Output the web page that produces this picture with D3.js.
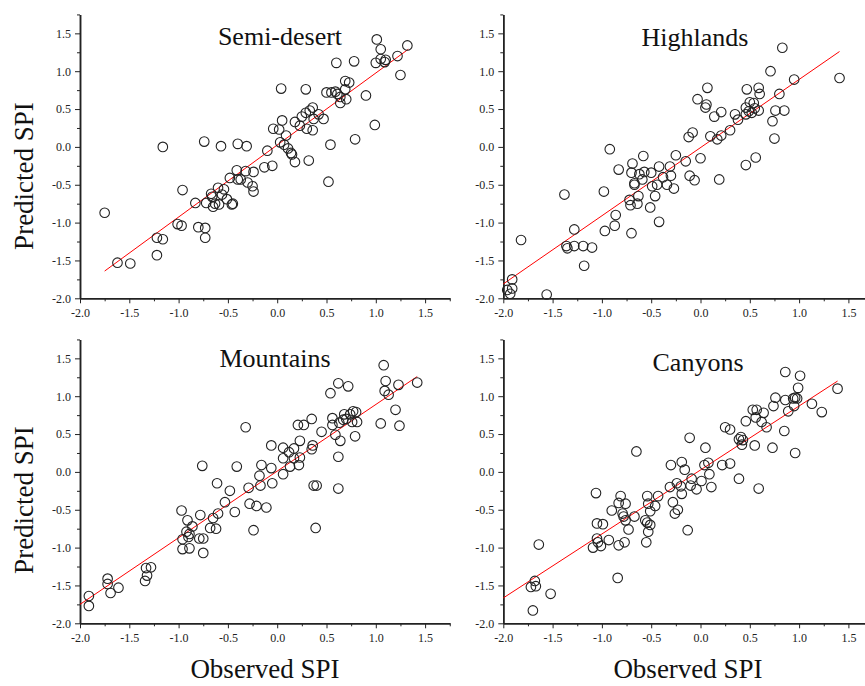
<!DOCTYPE html>
<html>
<head>
<meta charset="utf-8">
<script src="https://cdn.jsdelivr.net/npm/d3@7"></script>
<style>
  body { margin: 0; background: #fff; }
  .axis text { font-family: "Liberation Serif", serif; font-size: 12px; fill: #222; }
  .axis path, .axis line { stroke: #222; }
  .title { font-family: "Liberation Serif", serif; font-size: 26px; fill: #111; }
  .label { font-family: "Liberation Serif", serif; font-size: 27px; fill: #111; }
</style>
</head>
<body>
<svg id="chart" width="865" height="686"></svg>
<script>
// ticks
var majorTicks = [-2.0, -1.5, -1.0, -0.5, 0.0, 0.5, 1.0, 1.5];
var minorTicks = [-1.75, -1.25, -0.75, -0.25, 0.25, 0.75, 1.25, 1.75];

// Semi-desert
var semiObs = [-1.75,-1.62,-1.49,-1.22,-1.16,-1.22,-1.16,-1.01,-0.97,-0.96,-0.83,-0.80,-0.73,-0.73,-0.74,-0.72,-0.67,-0.66,-0.65,-0.63,-0.60,-0.59,-0.57,-0.56,-0.54,-0.51,-0.48,-0.46,-0.45,-0.41,-0.40,-0.40,-0.37,-0.31,-0.32,-0.30,-0.25,-0.24,-0.24,-0.13,-0.10,-0.05,-0.04,0.02,0.04,0.05,0.03,0.07,0.09,0.11,0.15,0.18,0.18,0.23,0.25,0.29,0.29,0.30,0.32,0.33,0.36,0.36,0.37,0.42,0.47,0.50,0.52,0.54,0.55,0.59,0.60,0.61,0.64,0.64,0.69,0.69,0.70,0.73,0.78,0.79,0.90,0.99,1.00,1.01,1.05,1.05,1.09,1.10,1.22,1.25,1.32,0.14];
var semiPred = [-0.87,-1.53,-1.54,-1.20,-1.22,-1.43,0.00,-1.02,-1.04,-0.57,-0.74,-1.06,-1.07,-1.20,0.07,-0.74,-0.62,-0.66,-0.79,-0.75,-0.54,-0.76,0.01,-0.63,-0.56,-0.69,-0.41,-0.76,-0.75,-0.31,0.04,-0.43,-0.43,0.01,-0.32,-0.47,-0.52,-0.33,-0.59,-0.27,-0.05,-0.25,0.24,0.23,0.77,0.35,0.06,0.03,0.15,-0.02,-0.10,-0.20,0.33,0.28,0.40,0.76,0.45,0.24,-0.18,0.48,0.52,0.22,0.37,0.43,0.37,0.72,-0.46,0.03,0.72,0.73,1.11,0.70,0.58,0.66,0.87,0.76,0.63,0.85,1.13,0.10,0.68,0.29,1.11,1.42,1.29,1.16,1.12,1.15,1.20,0.95,1.34,-0.08];
var semiFitX = [-1.75, 1.33];
var semiFitY = [-1.64, 1.29];

// Highlands
var highObs = [-1.93,-1.91,-1.91,-1.96,-1.82,-1.56,-1.38,-1.36,-1.35,-1.28,-1.28,-1.19,-1.18,-1.10,-0.98,-0.97,-0.92,-0.87,-0.86,-0.83,-0.72,-0.71,-0.70,-0.70,-0.69,-0.67,-0.67,-0.64,-0.63,-0.62,-0.59,-0.58,-0.57,-0.51,-0.50,-0.49,-0.46,-0.44,-0.42,-0.42,-0.38,-0.34,-0.31,-0.30,-0.27,-0.25,-0.15,-0.12,-0.11,-0.08,-0.06,0.00,-0.03,0.05,0.06,0.07,0.10,0.14,0.17,0.19,0.21,0.21,0.30,0.35,0.38,0.46,0.46,0.46,0.47,0.49,0.50,0.52,0.54,0.55,0.56,0.59,0.59,0.60,0.71,0.73,0.75,0.76,0.80,0.83,0.85,0.95,1.41];
var highPred = [-1.94,-1.87,-1.75,-1.89,-1.23,-1.95,-0.63,-1.31,-1.34,-1.31,-1.09,-1.31,-1.57,-1.33,-0.59,-1.11,-0.03,-1.04,-0.90,-0.30,-0.70,-0.77,-0.34,-1.14,-0.22,-0.50,-0.48,-0.75,-0.65,-0.36,-0.43,-0.12,-0.33,-0.80,-0.34,-0.52,-0.65,-0.50,-0.26,-0.99,-0.40,-0.50,-0.26,-0.38,-0.55,-0.11,-0.19,0.13,-0.38,0.19,-0.44,-0.15,0.63,0.52,0.56,0.78,0.14,0.40,0.10,-0.43,0.15,0.46,0.22,0.43,0.36,-0.24,0.43,0.52,0.76,0.47,0.59,0.45,0.58,0.51,-0.14,0.48,0.78,0.70,1.00,0.34,0.11,0.48,0.70,1.31,0.48,0.89,0.91];
var highFitX = [-2.0, 1.41];
var highFitY = [-1.81, 1.26];

// Mountains
var mountObs = [-1.91,-1.91,-1.72,-1.72,-1.69,-1.61,-1.34,-1.32,-1.33,-1.28,-0.97,-0.96,-0.96,-0.92,-0.91,-0.90,-0.89,-0.89,-0.86,-0.79,-0.78,-0.75,-0.75,-0.76,-0.68,-0.65,-0.62,-0.61,-0.60,-0.53,-0.48,-0.43,-0.41,-0.32,-0.29,-0.28,-0.24,-0.21,-0.18,-0.17,-0.16,-0.11,-0.06,-0.06,-0.05,0.06,0.06,0.06,0.12,0.13,0.17,0.17,0.21,0.22,0.23,0.23,0.27,0.35,0.35,0.36,0.37,0.40,0.39,0.45,0.54,0.56,0.56,0.59,0.62,0.62,0.62,0.63,0.64,0.67,0.68,0.70,0.72,0.74,0.76,0.77,0.80,0.79,0.81,1.05,1.08,1.09,1.10,1.13,1.20,1.23,1.24,1.42];
var mountPred = [-1.64,-1.77,-1.41,-1.48,-1.60,-1.53,-1.44,-1.37,-1.27,-1.26,-0.51,-0.89,-1.02,-0.79,-0.64,-0.86,-0.82,-1.01,-0.72,-0.88,-0.57,-0.88,-1.07,0.08,-0.74,-0.61,-0.75,-0.15,-0.55,-0.40,-0.25,-0.53,0.07,0.59,-0.21,-0.42,-0.77,-0.45,-0.05,-0.18,0.09,-0.47,0.35,0.05,-0.15,0.32,0.18,-0.03,0.26,0.07,0.31,0.18,0.62,0.09,0.19,0.41,0.62,0.70,0.30,0.35,-0.18,-0.18,-0.74,0.53,1.04,0.71,0.62,0.49,1.17,0.20,-0.22,0.65,0.41,0.69,0.76,0.70,1.13,0.76,0.66,0.80,0.79,0.47,0.66,0.64,1.41,1.07,1.20,1.02,0.82,1.15,0.61,1.18];
var mountFitX = [-2.0, 1.42];
var mountFitY = [-1.75, 1.26];

// Canyons
var canyObs = [-1.72,-1.70,-1.68,-1.67,-1.64,-1.52,-1.09,-1.06,-1.05,-1.05,-1.04,-1.01,-0.99,-0.93,-0.90,-0.84,-0.83,-0.83,-0.81,-0.79,-0.78,-0.77,-0.76,-0.76,-0.73,-0.67,-0.65,-0.56,-0.55,-0.54,-0.54,-0.53,-0.53,-0.51,-0.51,-0.46,-0.43,-0.31,-0.30,-0.28,-0.26,-0.24,-0.23,-0.20,-0.19,-0.19,-0.16,-0.13,-0.11,-0.10,-0.09,-0.04,0.01,0.04,0.05,0.08,0.09,0.11,0.22,0.25,0.30,0.30,0.39,0.39,0.41,0.42,0.43,0.46,0.53,0.55,0.56,0.57,0.59,0.62,0.64,0.67,0.73,0.74,0.76,0.85,0.86,0.86,0.89,0.94,0.95,0.96,0.96,0.98,0.99,1.01,1.13,1.23,1.39];
var canyPred = [-1.52,-1.83,-1.44,-1.51,-0.96,-1.61,-1.00,-0.28,-0.68,-0.88,-0.93,-0.98,-0.69,-0.90,-0.51,-1.40,-0.41,-0.97,-0.32,-0.55,-0.59,-0.93,-0.42,-0.64,-0.76,-0.59,0.27,-0.64,-0.93,-0.32,-0.67,-0.79,-0.42,-0.52,-0.70,-0.45,-0.32,-0.20,0.09,-0.40,-0.55,-0.15,-0.50,-0.19,0.13,-0.29,0.03,-0.77,0.45,-0.18,-0.09,-0.23,-0.12,0.09,0.32,0.12,-0.03,-0.20,0.09,0.59,0.11,0.56,-0.09,0.43,0.46,0.36,0.42,0.67,0.82,0.35,0.72,0.82,-0.22,0.66,0.78,0.59,0.32,0.87,0.98,0.54,1.32,0.95,0.80,0.97,0.87,0.98,0.25,0.97,1.11,1.27,0.90,0.79,1.10];
var canyFitX = [-2.0, 1.39];
var canyFitY = [-1.665, 1.20];

var svg = d3.select("#chart");

var panels = [
    {name: "Semi-desert", obs: semiObs, pred: semiPred, fx: semiFitX, fy: semiFitY, left: 80, bottom: 298.3, tx: 280, ty: 45},
    {name: "Highlands", obs: highObs, pred: highPred, fx: highFitX, fy: highFitY, left: 503.3, bottom: 298.3, tx: 695, ty: 46},
    {name: "Mountains", obs: mountObs, pred: mountPred, fx: mountFitX, fy: mountFitY, left: 80, bottom: 623.3, tx: 275, ty: 367},
    {name: "Canyons", obs: canyObs, pred: canyPred, fx: canyFitX, fy: canyFitY, left: 503.3, bottom: 623.3, tx: 698, ty: 371}
];

var unitX = 98.6, unitY = 75.7;
var fmt = function(d) { return d.toFixed(1); };

panels.forEach(function(p) {
    var x = d3.scaleLinear()
        .domain([-2, 1.75])
        .range([p.left, p.left + 3.75 * unitX]);
    var y = d3.scaleLinear()
        .domain([-2, 1.75])
        .range([p.bottom, p.bottom - 3.75 * unitY]);

    var g = svg.append("g");

    // minor ticks first, then major with labels
    g.append("g")
        .attr("class", "axis")
        .attr("transform", "translate(0," + p.bottom + ")")
        .call(d3.axisBottom(x).tickValues(minorTicks).tickSize(3).tickSizeOuter(0).tickFormat(""));
    g.append("g")
        .attr("class", "axis")
        .attr("transform", "translate(0," + p.bottom + ")")
        .call(d3.axisBottom(x).tickValues(majorTicks).tickSize(5).tickSizeOuter(0).tickPadding(5).tickFormat(fmt));

    g.append("g")
        .attr("class", "axis")
        .attr("transform", "translate(" + p.left + ",0)")
        .call(d3.axisLeft(y).tickValues(minorTicks).tickSize(3).tickSizeOuter(0).tickFormat(""));
    g.append("g")
        .attr("class", "axis")
        .attr("transform", "translate(" + p.left + ",0)")
        .call(d3.axisLeft(y).tickValues(majorTicks).tickSize(5).tickSizeOuter(0).tickPadding(4).tickFormat(fmt));

    g.selectAll(".axis")
        .attr("font-family", "Liberation Serif")
        .attr("font-size", 12);
    g.selectAll(".axis path").attr("stroke-width", 1.5);

    // fit line
    g.append("line")
        .attr("x1", x(p.fx[0]))
        .attr("y1", y(p.fy[0]))
        .attr("x2", x(p.fx[1]))
        .attr("y2", y(p.fy[1]))
        .attr("stroke", "#f00")
        .attr("stroke-width", 1);

    g.selectAll(".pt")
        .data(d3.zip(p.obs, p.pred))
        .enter()
        .append("circle")
        .attr("class", "pt")
        .attr("cx", function(d) { return x(d[0]); })
        .attr("cy", function(d) { return y(d[1]); })
        .attr("r", 4.8)
        .attr("fill", "none")
        .attr("stroke", "#222")
        .attr("stroke-width", 1.1);

    g.append("text")
        .attr("class", "title")
        .attr("x", p.tx)
        .attr("y", p.ty)
        .attr("text-anchor", "middle")
        .text(p.name);
});

// axis titles
[176, 500].forEach(function(cy) {
    svg.append("text")
        .attr("class", "label")
        .attr("text-anchor", "middle")
        .attr("transform", "translate(33," + cy + ") rotate(-90)")
        .text("Predicted SPI");
});
[265, 688].forEach(function(cx) {
    svg.append("text")
        .attr("class", "label")
        .attr("text-anchor", "middle")
        .attr("x", cx)
        .attr("y", 678)
        .text("Observed SPI");
});
</script>
</body>
</html>
